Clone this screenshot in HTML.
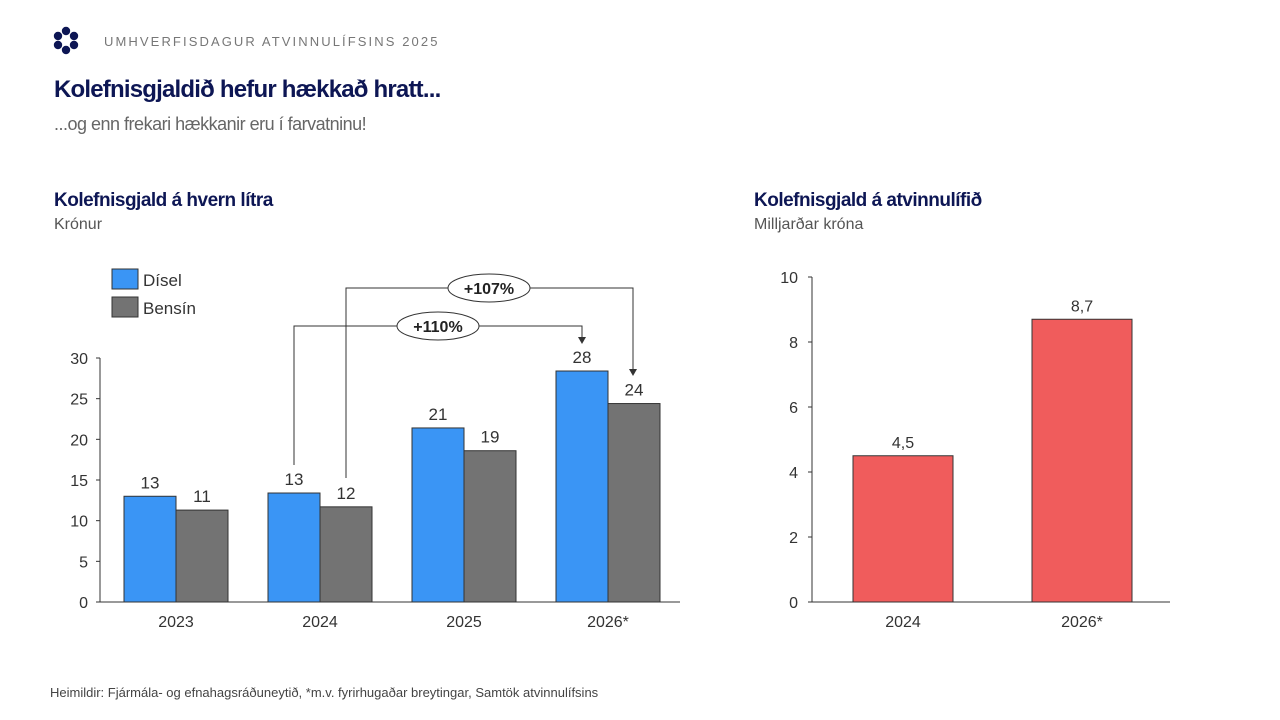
<!DOCTYPE html>
<html><head><meta charset="utf-8">
<style>
body{margin:0;width:1280px;height:720px;background:#fff;font-family:"Liberation Sans",sans-serif;overflow:hidden;position:relative}
.t{position:absolute;white-space:nowrap}
</style></head><body>
<svg class="t" style="left:0;top:0" width="100" height="60">
<g fill="#0d1654">
<circle cx="66" cy="31" r="4.2"/><circle cx="74" cy="36" r="4.2"/><circle cx="74" cy="45" r="4.2"/>
<circle cx="66" cy="50" r="4.2"/><circle cx="58" cy="45" r="4.2"/><circle cx="58" cy="36" r="4.2"/></g></svg>
<div class="t" style="left:104px;top:34px;font-size:13px;letter-spacing:2.1px;color:#777">UMHVERFISDAGUR ATVINNULÍFSINS 2025</div>
<div class="t" style="left:54px;top:76px;font-size:24px;font-weight:bold;color:#0d1654;letter-spacing:-0.8px">Kolefnisgjaldið hefur hækkað hratt...</div>
<div class="t" style="left:54px;top:114px;font-size:18px;color:#666;letter-spacing:-0.5px">...og enn frekari hækkanir eru í farvatninu!</div>
<div class="t" style="left:54px;top:190px;font-size:19px;font-weight:bold;color:#0d1654;letter-spacing:-0.5px">Kolefnisgjald á hvern lítra</div>
<div class="t" style="left:54px;top:216px;font-size:16px;color:#555">Krónur</div>
<div class="t" style="left:754px;top:190px;font-size:19px;font-weight:bold;color:#0d1654;letter-spacing:-0.5px">Kolefnisgjald á atvinnulífið</div>
<div class="t" style="left:754px;top:216px;font-size:16px;color:#555">Milljarðar króna</div>
<div class="t" style="left:50px;top:685px;font-size:13px;color:#444;letter-spacing:0px">Heimildir: Fjármála- og efnahagsráðuneytið, *m.v. fyrirhugaðar breytingar, Samtök atvinnulífsins</div>
<svg id="c" class="t" style="left:0;top:0" width="1280" height="720"></svg>
<script>
const years=["2023","2024","2025","2026*"];
const disel=[13.0,13.4,21.4,28.4];
const bensin=[11.3,11.7,18.6,24.4];
const leftTicks=[0,5,10,15,20,25,30];
const rYears=["2024","2026*"];
const rVals=[4.5,8.7];
const rLabels=["4,5","8,7"];
const rTicks=[0,2,4,6,8,10];
const NS="http://www.w3.org/2000/svg",svg=document.getElementById('c');
function el(t,a,txt){const e=document.createElementNS(NS,t);for(const k in a)e.setAttribute(k,a[k]);if(txt!=null)e.textContent=txt;svg.appendChild(e);return e;}
const ly=v=>602-v*(244/30), lx=i=>176+i*144;
const ry=v=>602-v*32.5, rx=i=>903+i*179;
let e=el('line',{x1:100,y1:602,x2:680,y2:602,stroke:'#333'});
leftTicks.forEach(v=>{el('line',{x1:96,x2:100,y1:ly(v),y2:ly(v),stroke:'#333'});
 e=el('text',{x:88,y:ly(v)+6,'text-anchor':'end','font-size':16,fill:'#333'},v);});
el('line',{x1:100,y1:358,x2:100,y2:602,stroke:'#333'});
years.forEach((y,i)=>{
 e=el('rect',{x:lx(i)-52,y:ly(disel[i]),width:52,height:602-ly(disel[i]),fill:'#3a95f5',stroke:'#333','stroke-width':1});
 
 e=el('rect',{x:lx(i),y:ly(bensin[i]),width:52,height:602-ly(bensin[i]),fill:'#737373',stroke:'#333','stroke-width':1});
 
 el('text',{x:lx(i)-26,y:ly(disel[i])-8,'text-anchor':'middle','font-size':17,fill:'#333'},Math.round(disel[i]));
 el('text',{x:lx(i)+26,y:ly(bensin[i])-8,'text-anchor':'middle','font-size':17,fill:'#333'},Math.round(bensin[i]));
 e=el('text',{x:lx(i),y:627,'text-anchor':'middle','font-size':16,fill:'#333'},y);
});
el('rect',{x:112,y:269,width:26,height:20,fill:'#3a95f5',stroke:'#333'});
el('text',{x:143,y:286,'font-size':17,fill:'#333'},'Dísel');
el('rect',{x:112,y:297,width:26,height:20,fill:'#737373',stroke:'#333'});
el('text',{x:143,y:314,'font-size':17,fill:'#333'},'Bensín');
function ann(x1,y1,top,x2,y2,cx,label){
 el('polyline',{points:`${x1},${y1} ${x1},${top} ${x2},${top} ${x2},${y2-6}`,fill:'none',stroke:'#333','stroke-width':1});
 el('polygon',{points:`${x2-4},${y2-7} ${x2+4},${y2-7} ${x2},${y2}`,fill:'#333'});
 el('ellipse',{cx:cx,cy:top,rx:41,ry:14,fill:'#fff',stroke:'#333'});
 e=el('text',{x:cx,y:top+6,'text-anchor':'middle','font-size':16,'font-weight':'bold',fill:'#222'},label);
 
}
ann(294,465,326,582,344,438,'+110%');
ann(346,478,288,633,376,489,'+107%');
el('line',{x1:812,y1:602,x2:1170,y2:602,stroke:'#333'});
el('line',{x1:812,y1:277,x2:812,y2:602,stroke:'#333'});
rTicks.forEach(v=>{el('line',{x1:808,x2:812,y1:ry(v),y2:ry(v),stroke:'#333'});
 e=el('text',{x:798,y:ry(v)+6,'text-anchor':'end','font-size':16,fill:'#333'},v);});
rYears.forEach((y,i)=>{
 e=el('rect',{x:rx(i)-50,y:ry(rVals[i]),width:100,height:602-ry(rVals[i]),fill:'#f05c5c',stroke:'#333'});
 
 el('text',{x:rx(i),y:ry(rVals[i])-8,'text-anchor':'middle','font-size':16,fill:'#333'},rLabels[i]);
 e=el('text',{x:rx(i),y:627,'text-anchor':'middle','font-size':16,fill:'#333'},y);
});
</script>
</body></html>
